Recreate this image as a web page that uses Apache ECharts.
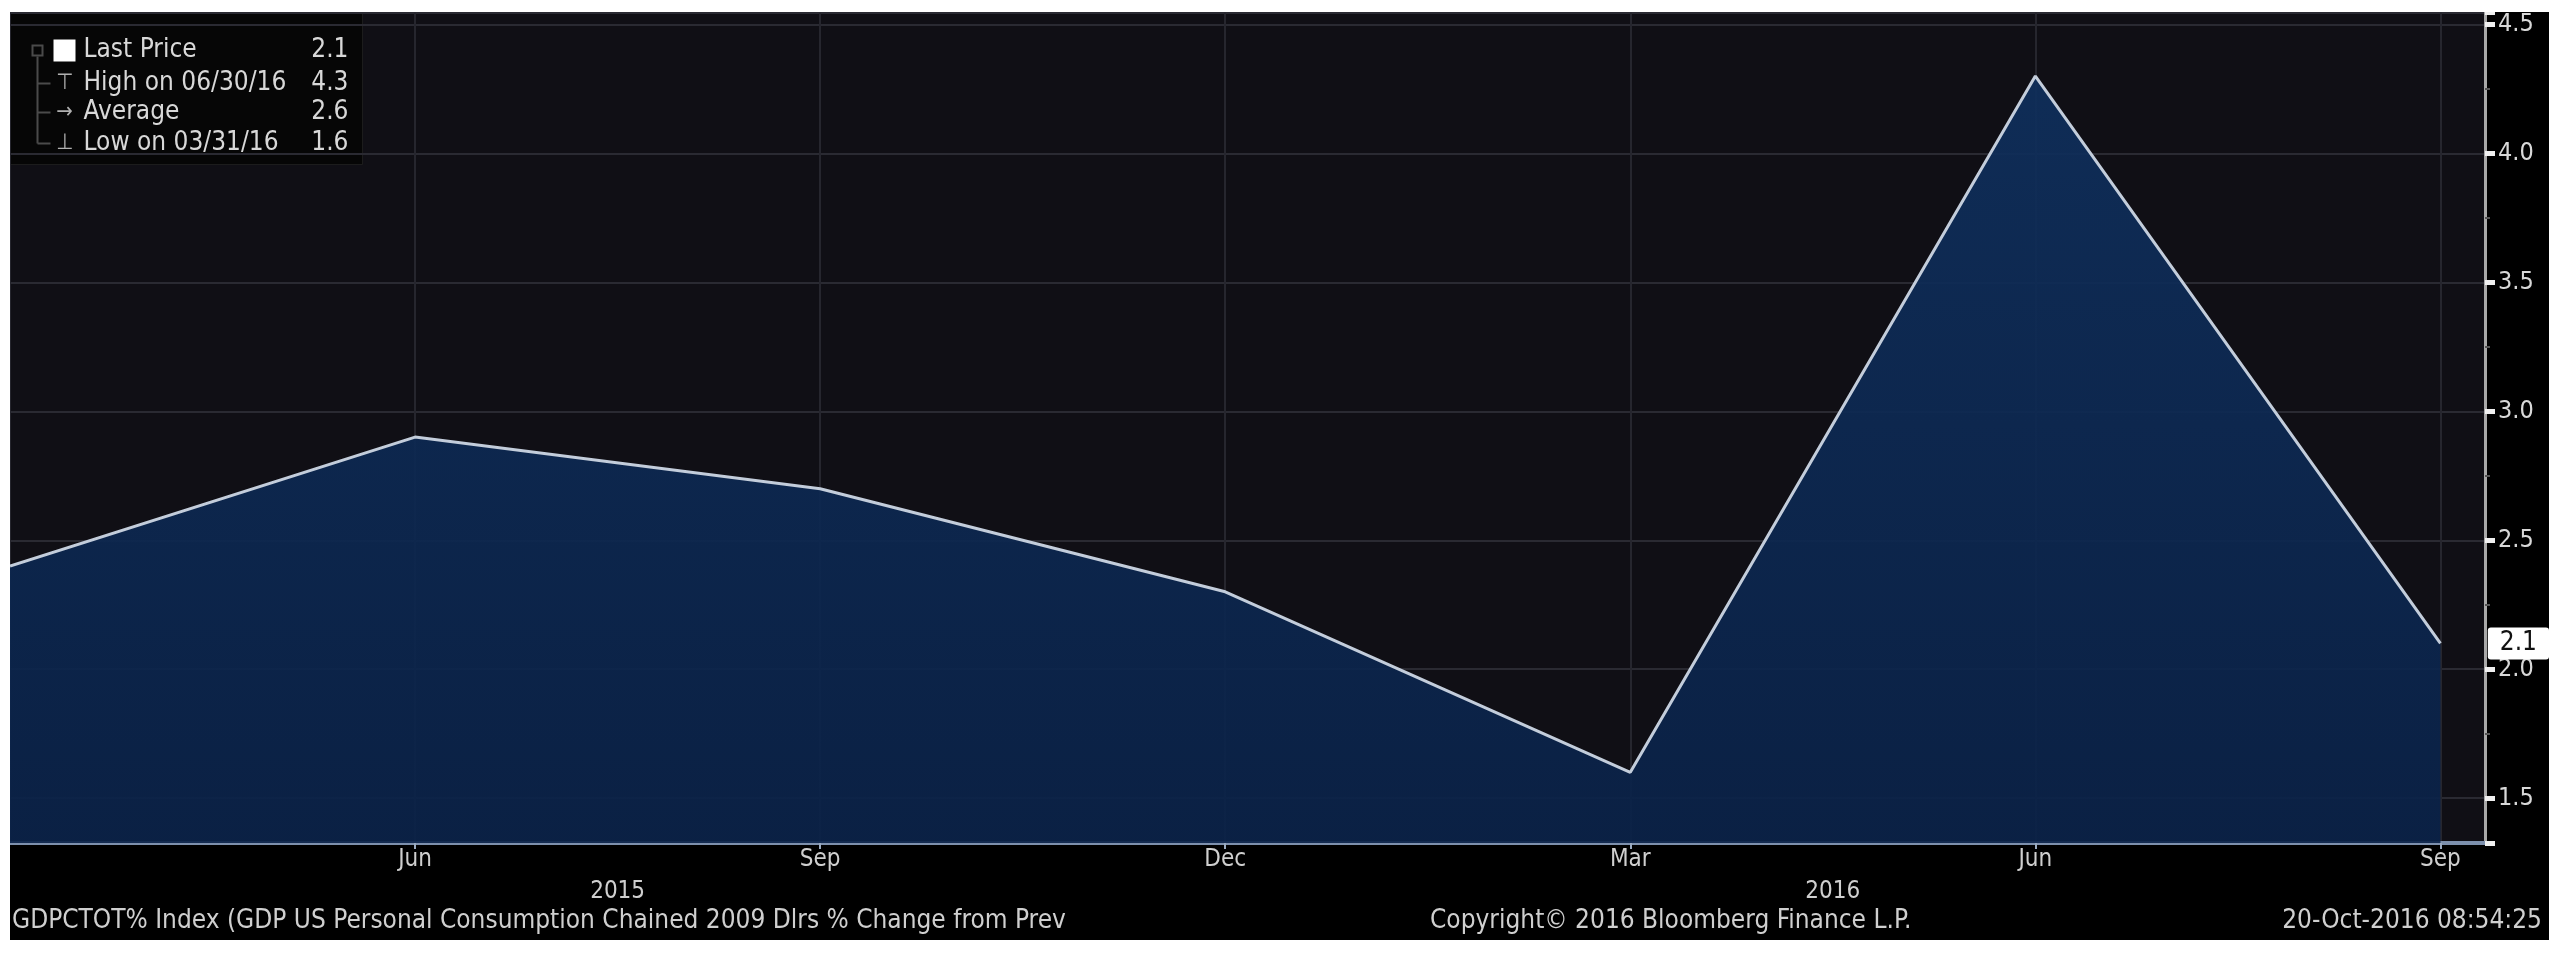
<!DOCTYPE html>
<html>
<head>
<meta charset="utf-8">
<script src="https://cdn.jsdelivr.net/npm/echarts@6/dist/echarts.min.js"></script>
<style>
  html, body { margin: 0; padding: 0; background: #fff; }
  #wrap { position: relative; width: 2563px; height: 957px; background: #fff; }
  #chart { position: absolute; left: 10px; top: 12px; width: 2539px; height: 928px; background: #000; }
</style>
</head>
<body>
<div id="wrap"><div id="chart"></div></div>
<script>
// quarterly GDP US personal consumption, % change from prev
var quarterLabels = ['Mar', 'Jun', 'Sep', 'Dec', 'Mar', 'Jun', 'Sep'];
var quarterEnds = ['03/31/15', '06/30/15', '09/30/15', '12/31/15', '03/31/16', '06/30/16', '09/30/16'];
var gdpChange = [2.4, 2.9, 2.7, 2.3, 1.6, 4.3, 2.1];
var yearLabels = ['2015', '2016'];

var FONT = '"DejaVu Sans Condensed", "DejaVu Sans", sans-serif';

var last = gdpChange[gdpChange.length - 1];
var hi = Math.max.apply(null, gdpChange);
var lo = Math.min.apply(null, gdpChange);
var avg = gdpChange.reduce(function (a, b) { return a + b; }, 0) / gdpChange.length;
var hiDate = quarterEnds[gdpChange.indexOf(hi)];
var loDate = quarterEnds[gdpChange.indexOf(lo)];

var points = gdpChange.map(function (v, i) { return [i, v]; });

var legendRows = [
  { icon: '', name: 'Last Price', value: last },
  { icon: '\u22a4', name: 'High on ' + hiDate, value: hi },
  { icon: '\u2192', name: 'Average', value: avg },
  { icon: '\u22a5', name: 'Low on ' + loDate, value: lo }
];
var rowY = [38, 71, 100, 131];

var legendEls = [
  { type: 'rect', shape: { x: 0, y: 0, width: 352, height: 152 },
    style: { fill: '#060606', stroke: '#1c1c1c', lineWidth: 1 } },
  { type: 'line', shape: { x1: 27, y1: 44, x2: 27, y2: rowY[3] },
    style: { stroke: '#4a4a4a', lineWidth: 2 } },
  { type: 'rect', shape: { x: 22, y: 33, width: 10, height: 10 },
    style: { fill: 'none', stroke: '#4a4a4a', lineWidth: 2 } },
  { type: 'rect', shape: { x: 43, y: 27, width: 22, height: 22 },
    style: { fill: '#fff' } }
];
legendRows.forEach(function (r, i) {
  var y = rowY[i];
  legendEls.push({ type: 'text', x: 73, y: y,
    style: { text: r.name, fill: '#d8d8d8', font: '26px ' + FONT, textVerticalAlign: 'middle' } });
  legendEls.push({ type: 'text', x: 338, y: y,
    style: { text: r.value.toFixed(1), fill: '#d8d8d8', font: '26px ' + FONT, textAlign: 'right', textVerticalAlign: 'middle' } });
  if (r.icon) {
    legendEls.push({ type: 'text', x: 54, y: y,
      style: { text: r.icon, fill: '#b0b0b0', font: '22px ' + FONT, textAlign: 'center', textVerticalAlign: 'middle' } });
    legendEls.push({ type: 'line', shape: { x1: 27, y1: y, x2: 40, y2: y },
      style: { stroke: '#4a4a4a', lineWidth: 2 } });
  }
});

var chart = echarts.init(document.getElementById('chart'));
chart.setOption({
  backgroundColor: '#000',
  animation: false,
  grid: {
    left: 0, right: 64, top: 0, bottom: 97,
    show: true, backgroundColor: '#100f15', borderWidth: 0
  },
  xAxis: [
    {
      type: 'value', min: 0, max: 6.11, interval: 1,
      axisLine: { show: true, onZero: false, lineStyle: { color: '#7d90ad', width: 4 } },
      axisTick: { show: true, length: 6, lineStyle: { color: '#9aaac0', width: 2 } },
      splitLine: { show: true, lineStyle: { color: '#26262e', width: 2 } },
      axisLabel: {
        showMinLabel: false, showMaxLabel: false, margin: 5,
        color: '#cfcfcf', fontFamily: FONT, fontSize: 24,
        formatter: function (v) { return quarterLabels[v] || ''; }
      }
    },
    {
      type: 'value', position: 'bottom', offset: 32, min: 0, max: 6.11, interval: 1.5,
      axisLine: { show: false, onZero: false }, axisTick: { show: false }, splitLine: { show: false },
      axisLabel: {
        showMinLabel: false, showMaxLabel: false, margin: 5,
        color: '#cfcfcf', fontFamily: FONT, fontSize: 24,
        formatter: function (v) {
          var k = v / 3 - 0.5;
          return (k === Math.round(k) && yearLabels[k]) || '';
        }
      }
    }
  ],
  yAxis: {
    type: 'value', position: 'right', min: 1.326, max: 4.546, splitNumber: 6,
    axisLine: { show: true, onZero: false, lineStyle: { color: '#a8a8a8', width: 3 } },
    axisTick: { show: true, length: 10, lineStyle: { color: '#f0f0f0', width: 5 } },
    minorTick: { show: true, splitNumber: 2, length: 5, lineStyle: { color: '#555', width: 2 } },
    splitLine: { show: true, lineStyle: { color: '#2a2a32', width: 2 } },
    axisLabel: {
      showMinLabel: false, showMaxLabel: false, margin: 13,
      color: '#d8d8d8', fontFamily: FONT, fontSize: 25,
      formatter: function (v) { return v.toFixed(1); }
    },
    axisPointer: {
      show: true, value: last, status: 'show', triggerTooltip: false,
      lineStyle: { opacity: 0 },
      label: {
        show: true, margin: 6, backgroundColor: '#ffffff', color: '#111',
        fontFamily: FONT, fontSize: 26, padding: [3, 12],
        formatter: function (p) { return p.value.toFixed(1); }
      }
    }
  },
  series: [{
    type: 'line',
    data: points,
    showSymbol: false,
    lineStyle: { color: '#c3cddb', width: 3 },
    areaStyle: {
      opacity: 0.92,
      color: new echarts.graphic.LinearGradient(0, 0, 0, 1, [
        { offset: 0, color: '#0f2f5c' },
        { offset: 1, color: '#0a2248' }
      ])
    }
  }],
  graphic: [
    { type: 'group', left: 0, top: 0, children: legendEls },
    { type: 'text', left: 2, top: 896,
      style: { text: 'GDPCTOT% Index (GDP US Personal Consumption Chained 2009 Dlrs % Change from Prev',
        fill: '#cfcfcf', font: '26px ' + FONT } },
    { type: 'text', left: 1420, top: 896,
      style: { text: 'Copyright\u00a9 2016 Bloomberg Finance L.P.', fill: '#cfcfcf', font: '26px ' + FONT } },
    { type: 'text', right: 7, top: 896,
      style: { text: '20-Oct-2016 08:54:25', fill: '#cfcfcf', font: '26px ' + FONT } }
  ]
});
</script>
</body>
</html>
